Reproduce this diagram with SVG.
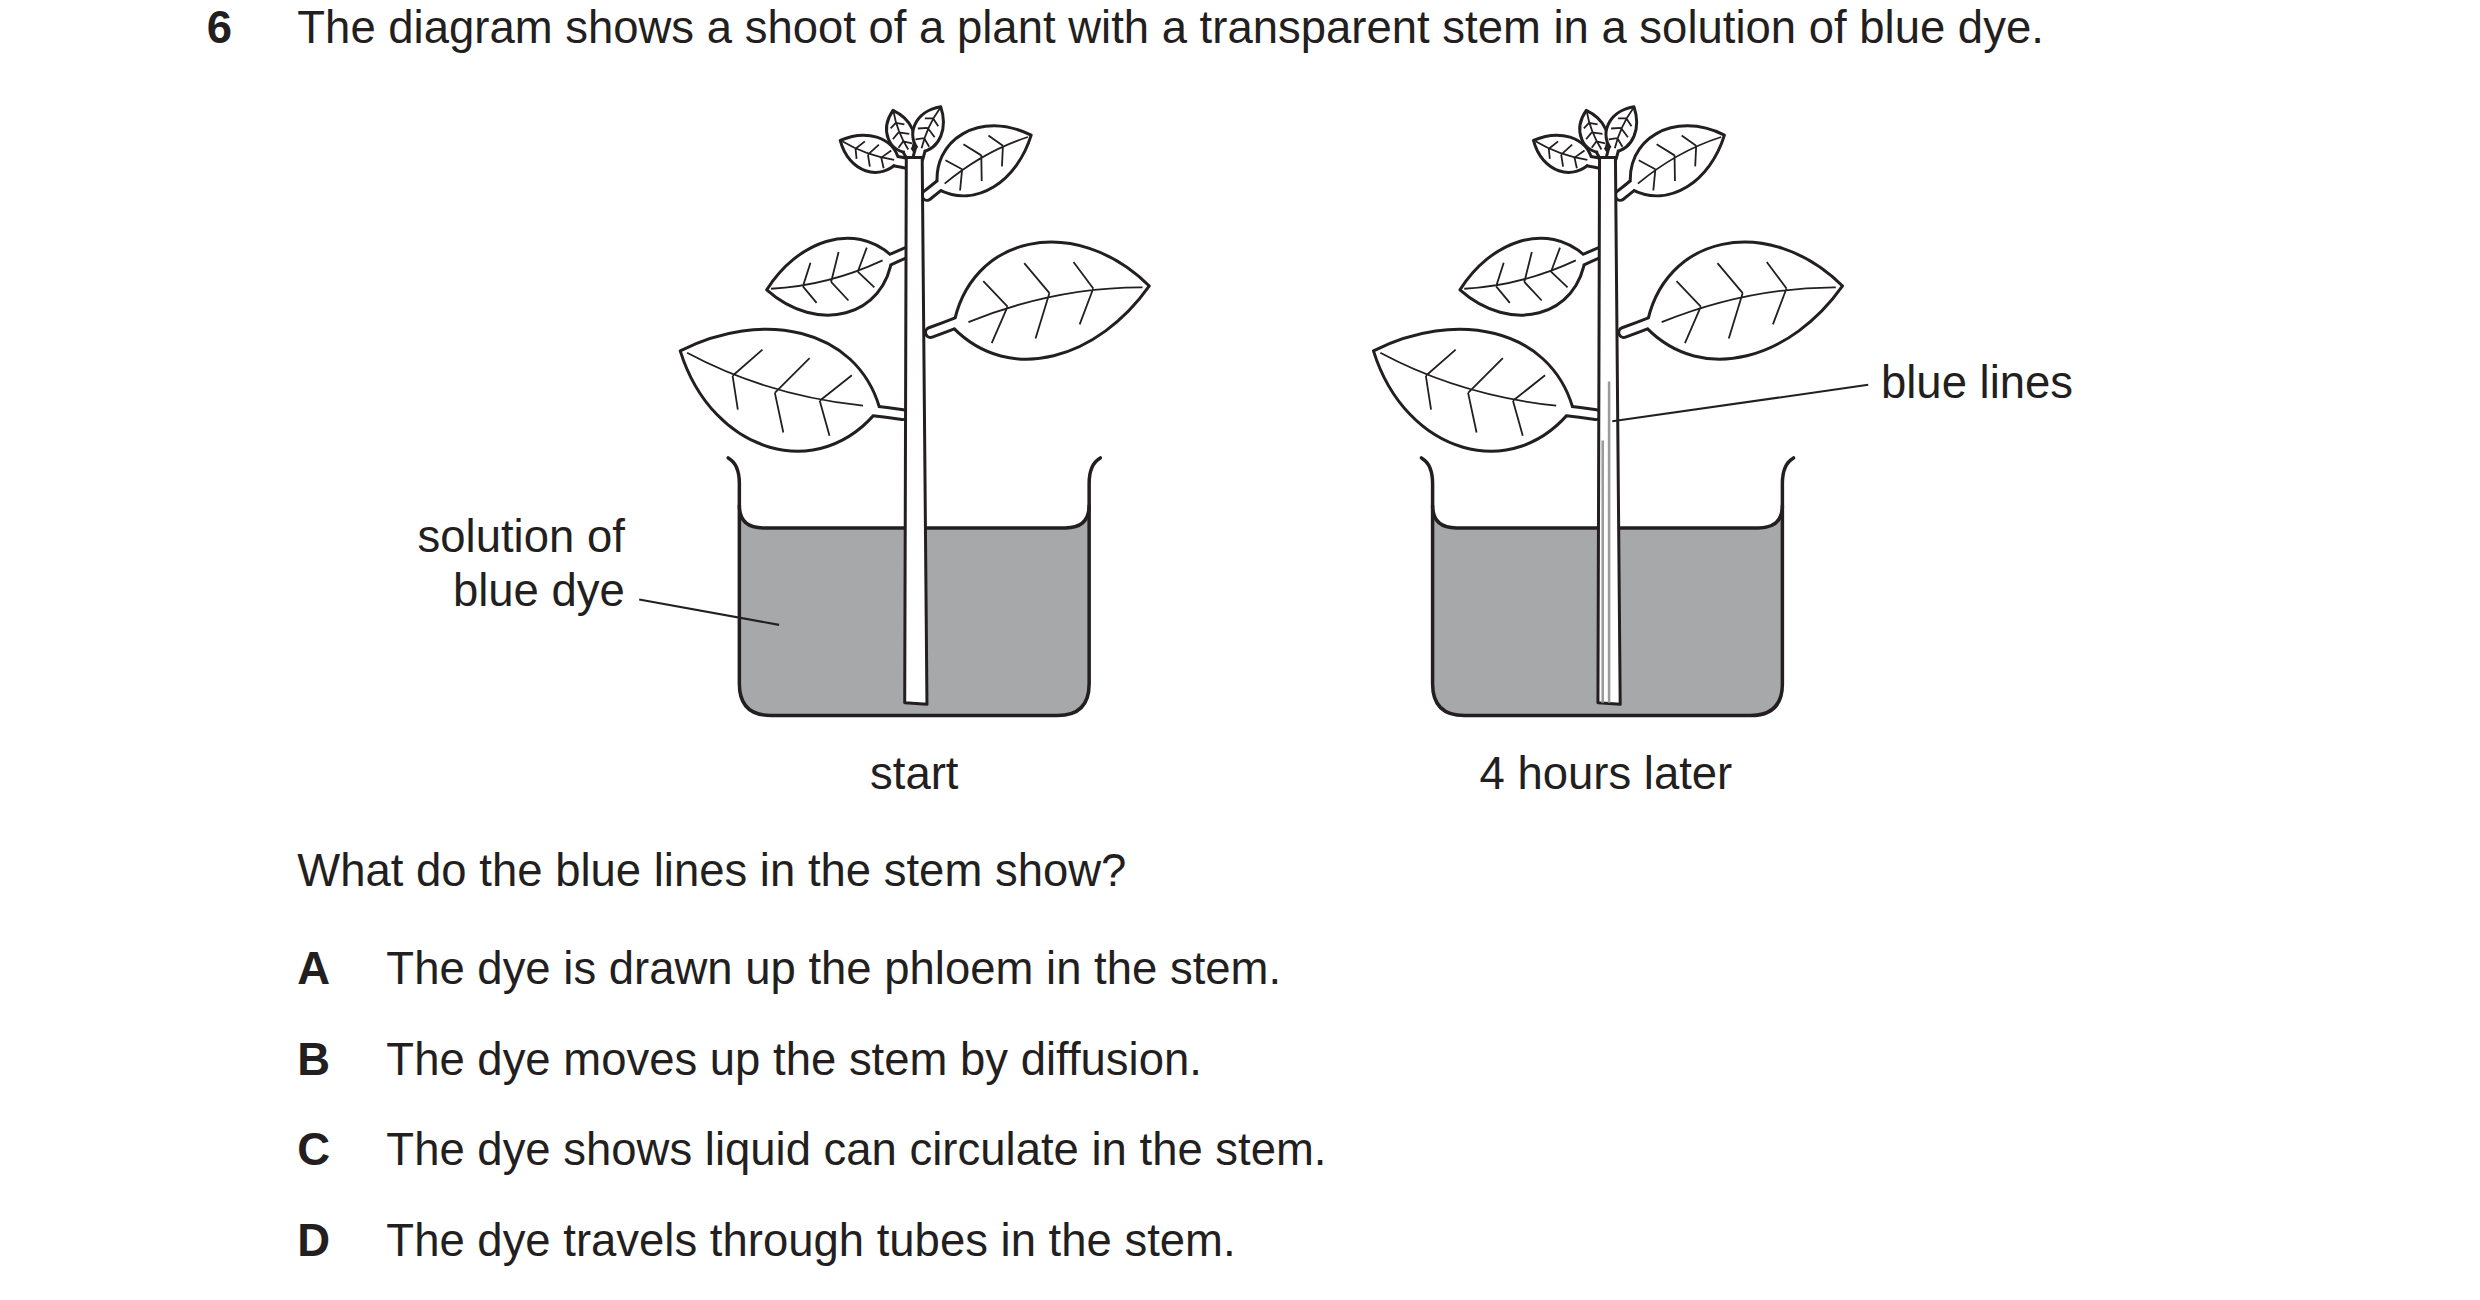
<svg xmlns="http://www.w3.org/2000/svg" width="2480" height="1300" viewBox="0 0 2480 1300">
<style>
text{font-family:"Liberation Sans",Arial,sans-serif;font-size:28.6px;fill:#231f20}
.b{font-weight:bold}
.o{fill:#fff;stroke:#231f20;stroke-width:3;stroke-linejoin:round;vector-effect:non-scaling-stroke}
.v{fill:none;stroke:#231f20;stroke-width:1.8;vector-effect:non-scaling-stroke}
.pk{fill:none;stroke:#231f20;stroke-width:13;stroke-linecap:round;vector-effect:non-scaling-stroke}
.pw{fill:none;stroke:#fff;stroke-width:7;stroke-linecap:round;vector-effect:non-scaling-stroke}
.ln{fill:none;stroke:#231f20;stroke-width:1.3}
.liq{fill:#a7a8aa;stroke:none}
.bk{fill:none;stroke:#231f20;stroke-width:2.2;stroke-linecap:round}
</style>
<defs>
<g id="leaf">
<path class="pk" d="M3,0 Q10,-1 16,-2"/>
<path class="o" d="M13,0 C28,-38 75,-38 100,0 C72,26 32,30 13,0 Z"/>
<path class="pw" d="M3,0 Q10,-1 16,-2"/>
<path class="v" d="M20,-1 Q60,-8 97,0 M38,-4 L30,-17 M38,-4 L28,10 M57,-6 L49,-21 M57,-6 L47,12 M76,-4 L70,-17 M76,-4 L67,10"/>
</g>
<g id="plant">
<use href="#leaf" transform="translate(571,103) rotate(199) scale(0.45)"/>
<use href="#leaf" transform="translate(581,124) rotate(-30) scale(0.78)"/>
<use href="#leaf" transform="translate(573,158) rotate(165) scale(0.94)"/>
<use href="#leaf" transform="translate(581,210) rotate(-12) scale(1.45)"/>
<use href="#leaf" transform="translate(572,262) rotate(196) scale(1.5)"/>
<use href="#leaf" transform="translate(574,100) rotate(-112) scale(0.33)"/>
<use href="#leaf" transform="translate(577,100) rotate(-66) scale(0.36)"/>
<path class="liq" d="M465,318 Q465,332 480,332 L670,332 Q685,332 685,318 L685,430 Q685,450 665,450 L485,450 Q465,450 465,430 Z"/>
<path class="bk" d="M465,318 Q465,332 480,332 L670,332 Q685,332 685,318"/>
<path class="bk" d="M458,288 Q465,292 465,304 L465,430 Q465,450 485,450 L665,450 Q685,450 685,430 L685,304 Q685,292 692,288"/>
<path class="o" d="M570,99 L580,99 L583,443 L569,442 Z"/>
</g>
</defs>
<g transform="scale(1.59)">
<g id="question">
<text class="b" x="130" y="27">6</text>
<text x="187" y="27">The diagram shows a shoot of a plant with a transparent stem in a solution of blue dye.</text>
</g>
<g id="start-plant"><use href="#plant"/>
<text x="575" y="496" text-anchor="middle">start</text></g>
<g id="later-plant"><use href="#plant" transform="translate(436,0)"/>
<path d="M1012,240 L1012,442 M1008,277 L1008,442" stroke="#9a9a9a" stroke-width="1.6" fill="none"/>
<text x="1010" y="496" text-anchor="middle">4 hours later</text></g>
<g id="connectors">
<path class="ln" d="M402,377 L490,393"/>
<path class="ln" d="M1175,242 L1014,265"/>
</g>
<g id="label-dye">
<text x="393" y="347" text-anchor="end">solution of</text>
<text x="393" y="381" text-anchor="end">blue dye</text>
</g>
<g id="label-lines"><text x="1183" y="250">blue lines</text></g>
<g id="options">
<text x="187" y="557">What do the blue lines in the stem show?</text>
<text class="b" x="187" y="619">A</text><text x="243" y="619">The dye is drawn up the phloem in the stem.</text>
<text class="b" x="187" y="676">B</text><text x="243" y="676">The dye moves up the stem by diffusion.</text>
<text class="b" x="187" y="733">C</text><text x="243" y="733">The dye shows liquid can circulate in the stem.</text>
<text class="b" x="187" y="790">D</text><text x="243" y="790">The dye travels through tubes in the stem.</text>
</g>
</g>
</svg>
